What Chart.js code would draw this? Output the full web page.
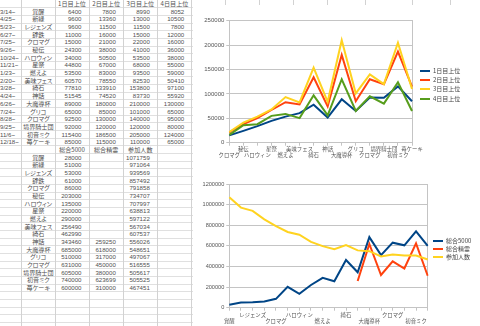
<!DOCTYPE html>
<html>
<head>
<meta charset="utf-8">
<script src="https://cdn.jsdelivr.net/npm/chart.js@4.4.0/dist/chart.umd.min.js"></script>
<style>
  html, body { margin: 0; padding: 0; background: #fff; }
  body { width: 480px; height: 326px; overflow: hidden; position: relative;
         font-family: "Liberation Sans", "Noto Sans CJK JP", sans-serif; }
  #sheet { position: absolute; left: 0; top: 0; width: 480px; height: 326px; }
  .hl { position: absolute; left: 0; width: 480px; height: 1px; background: #e0e0e0; }
  .vl { position: absolute; top: 0; width: 1px; height: 326px; background: #d2d2d2; }
  .c { position: absolute; height: 7.68px; line-height: 7.68px; font-size: 6.1px; color: #505050;
       white-space: nowrap; overflow: hidden; box-sizing: border-box; }
  .jp { font-family: "Noto Sans CJK JP", sans-serif; font-feature-settings: "palt"; }
  .box { position: absolute; background: #fff; }
  .box canvas { position: absolute; left: 0; top: 0; }
  .lg { position: absolute; font-family: "Noto Sans CJK JP", sans-serif; font-size: 6px; color: #444;
        white-space: nowrap; line-height: 8px; }
  .lg i { position: absolute; height: 2px; top: 3px; }
</style>
</head>
<body>
<div id="sheet"></div>
<div class="box" id="box1" style="left:193px;top:5px;width:287px;height:163px;">
  <canvas id="topChart" width="287" height="163"></canvas>
</div>
<div class="box" id="box2" style="left:193px;top:168px;width:287px;height:158px;">
  <canvas id="bottomChart" width="287" height="158"></canvas>
</div>
<script>
// --- data ---
const dates = ["3/14~", "4/25~", "5/23~", "6/27~", "7/25~", "9/26~", "10/24~", "11/21~", "1/23~",
  "2/20~", "3/28~", "4/24~", "6/26~", "7/24~", "8/28~", "9/25~", "11/6~", "12/18~"];
const events = ["覚醒", "新緑", "レジェンズ", "肆鉄", "クロマグ", "秘伝", "ハロウィン", "星祭", "燃えよ",
  "美味フェス", "綺石", "神話", "大魔導杯", "グリコ", "クロマグ", "境界騎士団", "初音ミク", "苺ケーキ"];

const dayHeaders = ["1日目上位", "2日目上位", "3日目上位", "4日目上位"];
const day1 = [6400, 9600, 9600, 11000, 15000, 24300, 34000, 44800, 53500, 60570, 77810, 51545, 89000, 65000, 92500, 92000, 115400, 85000];
const day2 = [7800, 13360, 11500, 16000, 21000, 38000, 50500, 67000, 83000, 78550, 133910, 74520, 180000, 85000, 130000, 120000, 186500, 115000];
const day3 = [8990, 13000, 11500, 15000, 22000, 41000, 53500, 68000, 93500, 82530, 153800, 83730, 210000, 101000, 140000, 120000, 205000, 110000];
const day4 = [8052, 10500, 7800, 12000, 16000, 36000, 38000, 55000, 59000, 50410, 97100, 55920, 130000, 65000, 95000, 80000, 124000, 65000];

const totalHeaders = ["総合5000", "総合精霊", "参加人数"];
const total5000 = [28000, 51000, 53000, 61000, 86000, 203000, 135000, 220000, 290000, 256490, 462990, 343460, 685000, 510000, 631000, 605000, 740000, 600000];
const totalSeirei = [null, null, null, null, null, null, null, null, null, null, null, 259250, 618000, 317000, 450000, 380000, 623699, 310000];
const participants = [1071759, 971064, 939569, 857492, 791858, 734707, 707997, 638813, 597122, 567034, 607537, 556026, 548651, 497067, 516555, 505617, 505525, 467451];

// top chart starts from the 7/25 row
const topStart = 4;

const colors = ["#004586", "#ff420e", "#ffd320", "#579d1c"];
const GRID = "#c4c4c4";

// --- spreadsheet behind the charts ---
const ROW_H = 7.68;
const colX = [0, 21.7, 55, 89, 123.3, 157.3, 191.7];
const sheet = document.getElementById("sheet");

function add(cls, css) {
  const d = document.createElement("div");
  d.className = cls;
  Object.assign(d.style, css);
  sheet.appendChild(d);
  return d;
}
for (let r = 1; r * ROW_H < 326; r++) add("hl", { top: (r * ROW_H - 0.5) + "px" });
colX.slice(1).forEach((x) => add("vl", { left: (x - 0.5) + "px" }));
[225, 259, 293, 327, 365, 412, 450].forEach((x) => add("vl", { left: x + "px" }));

function cell(r, c, text, align, jp) {
  const d = add("c" + (jp ? " jp" : ""), {
    top: (r * ROW_H) + "px",
    left: colX[c] + "px",
    width: (colX[c + 1] - colX[c]) + "px",
    textAlign: align,
    paddingRight: align === "right" ? "7.5px" : "0",
  });
  d.textContent = text;
}

dayHeaders.forEach((h, k) => cell(0, 2 + k, h, "center", true));
events.forEach((ev, i) => {
  const r = i + 1;
  cell(r, 0, dates[i], "left");
  cell(r, 1, ev, "center", true);
  [day1, day2, day3, day4].forEach((s, k) => cell(r, 2 + k, String(s[i]), "right"));
});
const r2 = events.length + 1;
totalHeaders.forEach((h, k) => cell(r2, 2 + k, h, "center", true));
events.forEach((ev, i) => {
  const r = r2 + 1 + i;
  cell(r, 1, ev, "center", true);
  [total5000, totalSeirei, participants].forEach((s, k) => {
    if (s[i] != null) cell(r, 2 + k, String(s[i]), "right");
  });
});

// --- legends ---
function legend(boxId, names, x, y, step) {
  const box = document.getElementById(boxId);
  names.forEach((n, k) => {
    const d = document.createElement("div");
    d.className = "lg";
    d.style.left = x + "px";
    d.style.top = (y + k * step - 4) + "px";
    d.style.paddingLeft = "13px";
    d.innerHTML = '<i style="left:0;width:10px;background:' + colors[k] + '"></i>';
    d.appendChild(document.createTextNode(n));
    box.appendChild(d);
  });
}
legend("box1", dayHeaders, 227, 66, 9.2);
legend("box2", totalHeaders, 240, 73.3, 8);

// --- charts ---
Chart.defaults.font.family = '"Liberation Sans", "Noto Sans CJK JP", sans-serif';
Chart.defaults.color = "#555";

function lineSet(label, data, k) {
  return {
    label, data,
    borderColor: colors[k], backgroundColor: colors[k],
    borderWidth: 2, pointRadius: 0, tension: 0, fill: false,
    order: -k, spanGaps: false,
  };
}

function xAxis(height, pad, cb) {
  return {
    grid: { drawOnChartArea: false, tickLength: 3, color: GRID },
    border: { color: GRID },
    ticks: {
      autoSkip: false, maxRotation: 0, minRotation: 0, padding: pad,
      font: { family: '"Noto Sans CJK JP", sans-serif', size: 5.4, lineHeight: 1.1 },
      callback: cb,
    },
    afterFit(s) { s.height = height; },
  };
}
function yAxis(max, step, size) {
  return {
    min: 0, max,
    ticks: { stepSize: step, padding: 2, font: { size }, callback: (v) => String(v) },
    grid: { color: GRID, tickLength: 3 },
    border: { color: GRID },
    afterFit(s) { s.width = 36.3; },
  };
}
const frame = {
  type: "linear", position: "right", display: true,
  grid: { drawOnChartArea: false, drawTicks: false },
  ticks: { display: false },
  border: { color: GRID },
  afterFit(s) { s.width = 0; },
};

const topLabels = events.slice(topStart);
new Chart(document.getElementById("topChart"), {
  type: "line",
  data: {
    labels: topLabels,
    datasets: [day1, day2, day3, day4].map((s, k) => lineSet(dayHeaders[k], s.slice(topStart), k)),
  },
  options: {
    responsive: false, animation: false, devicePixelRatio: 1,
    layout: { padding: { top: 15.7, right: 68, bottom: 0, left: 0 } },
    plugins: { legend: { display: false }, tooltip: { enabled: false } },
    scales: {
      x: xAxis(25.3, 0.3, (v, i) => (i % 2 ? [topLabels[i], ""] : ["", topLabels[i]])),
      y: yAxis(250000, 50000, 6),
      y2: frame,
    },
  },
});

new Chart(document.getElementById("bottomChart"), {
  type: "line",
  data: {
    labels: events,
    datasets: [total5000, totalSeirei, participants].map((s, k) => lineSet(totalHeaders[k], s, k)),
  },
  options: {
    responsive: false, animation: false, devicePixelRatio: 1,
    layout: { padding: { top: 16, right: 52.3, bottom: 0, left: 0 } },
    plugins: { legend: { display: false }, tooltip: { enabled: false } },
    scales: {
      x: xAxis(18.3, 1.5, (v, i) => (i % 2 ? "" : (i % 4 === 0 ? ["", events[i]] : [events[i], ""]))),
      y: yAxis(1200000, 200000, 5.6),
      y2: frame,
    },
  },
});
</script>
</body>
</html>
